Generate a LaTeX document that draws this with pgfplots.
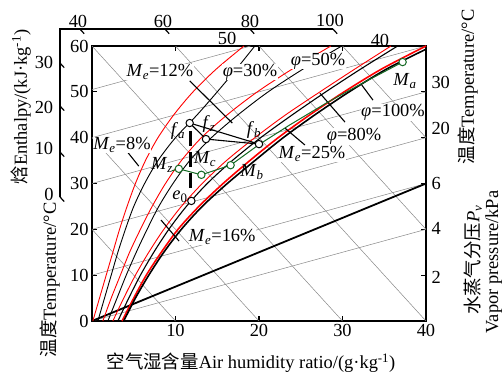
\documentclass[border=0pt]{standalone}
\usepackage{fontspec}
\setmainfont{Liberation Serif}
\newfontfamily\cjk{Noto Sans CJK SC}
\usepackage{pgfplots}
\pgfplotsset{compat=1.18}
\definecolor{dgreen}{RGB}{20,105,35}
\definecolor{lgray}{RGB}{135,135,135}
\newcommand\lf{\fontsize{18.5}{18.5}\selectfont}
\tikzset{lbl/.style={font=\lf, fill=white, inner sep=0.4bp}, tl/.style={font=\lf, inner sep=0.4bp}}
\begin{document}
\begin{tikzpicture}
\begin{axis}[
 scale only axis, width=334bp, height=275bp,
 xmin=0,xmax=40,ymin=0,ymax=60, clip=false,
 axis line style={line width=1.4bp},
 xtick={10,20,30,40}, ytick={0,10,20,30,40,50,60},
 tick align=inside, major tick length=5bp,
 tick style={line width=1.2bp,black},
 /pgf/number format/assume math mode=true,
 tick label style={font=\lf},
 gl/.style={lgray, line width=0.5bp, no markers},
 rc/.style={red, line width=0.9bp, no markers, smooth},
 bc/.style={black, line width=0.9bp, no markers, smooth},
 ld/.style={black, line width=1.1bp, no markers},
]
% invisible bounding box corners
\coordinate (bbll) at (axis cs:-11.018,-11.564);
\coordinate (bbur) at (axis cs:49.222,70.04);
% gray upward lines
\addplot[gl] coordinates {(0,0) (40,20)};
\addplot[gl] coordinates {(0,10) (40,30)};
\addplot[gl] coordinates {(0,20) (40,40)};
\addplot[gl] coordinates {(0,30) (40,50)};
\addplot[gl] coordinates {(0,40) (40,60)};
\addplot[gl] coordinates {(0,50.5) (19,60)};
% gray enthalpy lines
\addplot[gl] coordinates {(0,20) (10,0)};
\addplot[gl] coordinates {(0,40) (20,0)};
\addplot[gl] coordinates {(0,60) (30,0)};
\addplot[gl] coordinates {(10,60) (40,0)};
\addplot[gl] coordinates {(20,60) (40,20)};
\addplot[gl] coordinates {(30,60) (40,40)};
% vapour pressure line
\addplot[black, line width=1.8bp, no markers] coordinates {(0,0) (40,30)};
% pair A
\addplot[rc] coordinates {(0.1,0) (0.9,5) (1.7,10) (2.5,15) (3.3,20) (4.2,25) (5.2,30) (6.4,35) (7.9,40) (9.8,45) (12.1,50) (14.9,55) (18.2,60)};
\addplot[bc] coordinates {(0.7,0) (1.5,5) (2.3,10) (3.1,15) (4.0,20) (5.0,25) (6.3,30) (7.9,35) (10.0,40) (12.6,45) (15.0,50) (17.3,55) (19.5,60)};
% pair B
\addplot[rc] coordinates {(1.3,0) (2.3,5) (3.4,10) (4.5,15) (5.8,20) (7.2,25) (8.8,30) (10.7,35) (13.1,40) (16.2,45) (19.8,50) (24.0,55) (28.6,60)};
\addplot[bc] coordinates {(1.9,0) (3.0,5) (4.1,10) (5.3,15) (6.6,20) (8.0,25) (9.7,30) (11.7,35) (14.3,40) (17.5,45) (21.1,50) (25.3,55) (29.9,60)};
% pair C
\addplot[rc] coordinates {(2.5,0) (3.8,5) (5.2,10) (6.8,15) (8.6,20) (10.7,25) (13.2,30) (16.1,35) (19.5,40) (23.2,45) (27.3,50) (31.5,55) (35.8,60)};
\addplot[bc, line width=1.1bp] coordinates {(3.1,0) (4.4,5) (5.8,10) (7.4,15) (9.2,20) (11.3,25) (13.8,30) (16.8,35) (20.2,40) (24.0,45) (28.0,50) (32.2,55) (36.6,60)};
% pair D
\addplot[rc, line width=1.6bp] coordinates {(3.6,0) (5.0,5) (6.5,10) (8.3,15) (10.3,20) (12.8,25) (15.7,30) (18.9,35) (22.3,40) (26.1,45) (30.2,50) (34.7,55) (40,60)};
\addplot[bc, line width=1.6bp] coordinates {(3.8,0) (5.2,5) (6.8,10) (8.6,15) (10.7,20) (13.2,25) (16.2,30) (19.5,35) (22.9,40) (26.7,45) (30.8,50) (35.3,55) (40,59.3)};
% leaders
\addplot[ld] coordinates {(3.8,37.9) (5.6,33.8)};
\addplot[ld] coordinates {(11.7,52.4) (16.8,43.2)};
\addplot[ld] coordinates {(27.3,49.7) (30.3,43.4)};
\addplot[ld] coordinates {(32.3,51.5) (33.65,48.2)};
\addplot[ld] coordinates {(23.1,42.1) (25.5,38.4)};
\addplot[ld] coordinates {(8.26,22.04) (10.42,17.45)};
% triangle
\addplot[ld] coordinates {(11.7,43.2) (13.65,39.7) (20,38.6) (11.7,43.2)};
% dashed vertical
\addplot[black, line width=3.8bp, dash pattern=on 15bp off 6bp, no markers] coordinates {(11.8,41.5) (11.8,28.1)};
% green path
\addplot[dgreen, line width=1bp, no markers] coordinates {(9.6,32.8) (10.4,33.2) (13.1,31.9) (16.6,34.0) (20,38.5) (23.7,42.8) (28,47.5) (32,51.5) (37.2,56.5)};
\addplot[only marks, mark=*, mark size=3.7bp, mark options={fill=white, draw=dgreen, line width=1bp}] coordinates {(10.4,33.2) (13.1,31.9) (16.6,34.0) (37.2,56.5)};
\addplot[only marks, mark=*, mark size=3.7bp, mark options={fill=white, draw=black, line width=1bp}] coordinates {(11.7,43.2) (13.65,39.7) (20,38.6) (11.9,26.2)};
% labels
\node[lbl] at (axis cs:8.14,54.33) {\textit{M}\textsubscript{\textit{e}}=12\%};
\node[lbl] at (axis cs:18.92,54.33) {\textit{φ}=30\%};
\node[lbl] at (axis cs:27.07,56.73) {\textit{φ}=50\%};
\node[lbl] at (axis cs:37.49,52.36) {\textit{M}\textsubscript{\textit{a}}};
\node[lbl] at (axis cs:36.05,45.6) {\textit{φ}=100\%};
\node[lbl] at (axis cs:31.38,40.36) {\textit{φ}=80\%};
\node[lbl] at (axis cs:26.35,36.44) {\textit{M}\textsubscript{\textit{e}}=25\%};
\node[tl] at (axis cs:19.4,41.67) {\textit{f}\textsubscript{\textit{b}}};
\node[tl] at (axis cs:14.0,42.98) {\textit{f}\textsubscript{\textit{z}}};
\node[tl] at (axis cs:10.3,41.45) {\textit{f}\textsubscript{\textit{a}}};
\node[tl] at (axis cs:13.53,35.35) {\textit{M}\textsubscript{\textit{c}}};
\node[tl] at (axis cs:8.38,34.04) {\textit{M}\textsubscript{\textit{z}}};
\node[tl] at (axis cs:19.16,32.51) {\textit{M}\textsubscript{\textit{b}}};
\node[tl] at (axis cs:10.54,27.06) {\textit{e}\textsubscript{0}};
\node[lbl] at (axis cs:15.6,18.33) {\textit{M}\textsubscript{\textit{e}}=16\%};
\node[lbl] at (axis cs:3.59,38.4) {\textit{M}\textsubscript{\textit{e}}=8\%};
% enthalpy outer frame
\draw[line width=1.6bp] (axis cs:-3.83,27.06) -- (axis cs:-3.83,63.7) -- (axis cs:28.86,63.7);
\draw[line width=1.2bp] (axis cs:-3.83,27.06) -- ++(axis direction cs:0.5,-1);
\draw[line width=1.2bp] (axis cs:-3.83,36.87) -- ++(axis direction cs:0.5,-1);
\draw[line width=1.2bp] (axis cs:-3.83,46.91) -- ++(axis direction cs:0.5,-1);
\draw[line width=1.2bp] (axis cs:-3.83,56.29) -- ++(axis direction cs:0.5,-1);
\draw[line width=1.2bp] (axis cs:-1.44,63.7) -- ++(axis direction cs:0.5,-1);
\draw[line width=1.2bp] (axis cs:8.74,63.7) -- ++(axis direction cs:0.5,-1);
\draw[line width=1.2bp] (axis cs:18.92,63.7) -- ++(axis direction cs:0.5,-1);
\draw[line width=1.2bp] (axis cs:28.86,63.7) -- ++(axis direction cs:0.5,-1);
\node[font=\lf] at (axis cs:-1.68,65.46) {40};
\node[font=\lf] at (axis cs:8.5,65.46) {60};
\node[font=\lf] at (axis cs:18.92,65.46) {80};
\node[font=\lf] at (axis cs:28.5,65.67) {100};
\node[font=\lf] at (axis cs:-5.75,56.51) {30};
\node[font=\lf] at (axis cs:-5.75,46.69) {20};
\node[font=\lf] at (axis cs:-5.75,37.75) {10};
\node[font=\lf] at (axis cs:-5.15,27.71) {0};
% right labels
\node[font=\lf, anchor=west] at (axis cs:40.24,30.11) {6};
\node[font=\lf, anchor=west] at (axis cs:40.24,20.29) {4};
\node[font=\lf, anchor=west] at (axis cs:40.24,9.6) {2};
\node[font=\lf, anchor=west] at (axis cs:40.24,52.15) {30};
\node[font=\lf, anchor=west] at (axis cs:40.24,42.11) {20};
\node[font=\lf] at (axis cs:34.49,61.31) {40};
\node[font=\lf] at (axis cs:16.17,61.75) {50};
% axis titles
\node[font=\lf] at (axis cs:19.04,-9.1) {{\cjk 空气湿含量}Air humidity ratio/(g\textperiodcentered kg\textsuperscript{-1})};
\node[font=\lf, rotate=90] at (axis cs:-5.03,8.95) {{\cjk 温度}Temperature/\textdegree C};
\node[font=\lf, rotate=90] at (axis cs:-8.5,46.7) {{\cjk 焓}Enthalpy/(kJ\textperiodcentered kg\textsuperscript{-1})};
\node[font=\lf, rotate=90] at (axis cs:45.03,51.06) {{\cjk 温度}Temperature/\textdegree C};
\node[font=\lf, rotate=90] at (axis cs:45.63,13.3) {{\cjk 水蒸气分压}\textit{P}\textsubscript{\textit{v}}};
\node[font=\lf, rotate=90] at (axis cs:48.1,12.87) {Vapor pressure/kPa};
\end{axis}
\pgfresetboundingbox
\path[use as bounding box] (bbll) rectangle (bbur);
\end{tikzpicture}
\end{document}
